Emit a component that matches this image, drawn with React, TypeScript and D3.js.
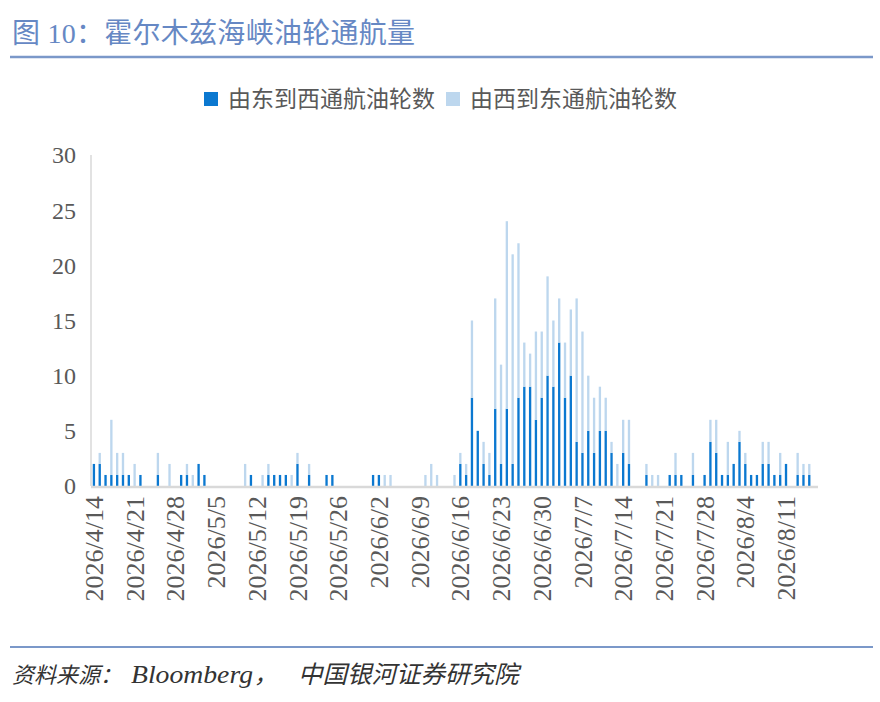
import * as d3 from 'd3';

// daily categories: 2026/4/14 .. 2026/8/16
const dates = d3.timeDay.range(new Date(2026, 3, 14), new Date(2026, 7, 17));
const fmt = d3.timeFormat('%Y/%-m/%-d');
const days = dates.map((d) => fmt(d));

const tickLabels = [
  '2026/4/14', '2026/4/21', '2026/4/28', '2026/5/5', '2026/5/12', '2026/5/19',
  '2026/5/26', '2026/6/2', '2026/6/9', '2026/6/16', '2026/6/23', '2026/6/30',
  '2026/7/7', '2026/7/14', '2026/7/21', '2026/7/28', '2026/8/4', '2026/8/11',
];

const yTicks = [0, 5, 10, 15, 20, 25, 30];

const seriesNames = ['由东到西通航油轮数', '由西到东通航油轮数'];
const colors = ['#0b78d0', '#bdd7ee'];

// 由东到西 (dark, bottom)
const eastToWest = [
  2, 2, 1, 1, 1, 1, 1, 0, 1, 0, 0, 1, 0, 0, 0, 1, 1, 0, 2, 1,
  0, 0, 0, 0, 0, 0, 0, 1, 0, 0, 1, 1, 1, 1, 0, 2, 0, 1, 0, 0,
  1, 1, 0, 0, 0, 0, 0, 0, 1, 1, 0, 0, 0, 0, 0, 0, 0, 0, 0, 0,
  0, 0, 0, 2, 1, 8, 5, 2, 1, 7, 2, 7, 2, 8, 9, 9, 6, 8, 10, 9,
  13, 8, 10, 4, 3, 5, 3, 5, 5, 3, 0, 3, 2, 0, 0, 1, 0, 0, 0, 1,
  1, 1, 0, 1, 0, 1, 4, 3, 1, 1, 2, 4, 2, 1, 1, 2, 2, 1, 1, 2,
  0, 1, 1, 1, 0,
];

// 由西到东 (light, stacked on top)
const westToEast = [
  0, 1, 0, 5, 2, 2, 0, 2, 0, 0, 0, 2, 0, 2, 0, 0, 1, 1, 0, 0,
  0, 0, 0, 0, 0, 0, 2, 0, 0, 1, 1, 0, 0, 0, 1, 1, 0, 1, 0, 0,
  0, 0, 0, 0, 0, 0, 0, 0, 0, 0, 1, 1, 0, 0, 0, 0, 0, 1, 2, 1,
  0, 0, 1, 1, 1, 7, 0, 2, 2, 10, 9, 17, 19, 14, 4, 3, 8, 6, 9, 6,
  4, 5, 6, 13, 11, 5, 5, 4, 3, 1, 2, 3, 4, 0, 0, 1, 1, 1, 0, 0,
  2, 0, 0, 2, 0, 0, 2, 3, 0, 3, 0, 1, 1, 0, 0, 2, 2, 0, 2, 0,
  0, 2, 1, 1, 0,
];

const W = 880;
const H = 702;
const plot = { left: 91, right: 818, top: 155, bottom: 486 };

const serif = '"Liberation Serif", "Noto Sans CJK SC", serif';
const sans = '"Noto Sans CJK SC", "Noto Sans", sans-serif';

export default function App() {
  const x = d3.scaleBand<string>().domain(days).range([plot.left, plot.right]).paddingInner(0.6).paddingOuter(0.3);
  const y = d3.scaleLinear().domain([0, 30]).range([plot.bottom, plot.top]);

  const rows = days.map((d, i) => ({ day: d, e: eastToWest[i] ?? 0, w: westToEast[i] ?? 0 }));
  const stacked = d3.stack<{ day: string; e: number; w: number }>().keys(['e', 'w'])(rows);

  return (
    <div style={{ position: 'absolute', left: 0, top: 0 }}>
      <svg width={W} height={H} style={{ display: 'block', background: '#fff' }}>
        {/* title */}
        <text x={12} y={43} fontFamily={serif} fontSize={28} fill="#6688c4" textLength={403} lengthAdjust="spacing">
          图 10：霍尔木兹海峡油轮通航量
        </text>
        <line x1={10} x2={873} y1={57} y2={57} stroke="#7b98c9" strokeWidth={2.5} />

        {/* legend */}
        {seriesNames.map((name, i) => {
          const lx = i === 0 ? 204 : 446;
          return (
            <g key={name}>
              <rect x={lx} y={92} width={14} height={14} fill={colors[i]} />
              <text x={lx + 24} y={107} fontFamily={sans} fontSize={23} fill="#595959">
                {name}
              </text>
            </g>
          );
        })}

        {/* y axis */}
        <line x1={plot.left} x2={plot.left} y1={plot.top} y2={plot.bottom} stroke="#d9d9d9" strokeWidth={1.5} />
        {yTicks.map((t) => (
          <text key={t} x={76} y={y(t)} dy="0.35em" textAnchor="end" fontFamily={serif} fontSize={24} fill="#595959">
            {t}
          </text>
        ))}

        {/* bars */}
        {stacked.map((s, si) => (
          <g key={s.key} fill={colors[si]}>
            {s.map((d) => (
              <rect
                key={d.data.day}
                x={x(d.data.day)}
                y={y(d[1])}
                width={x.bandwidth()}
                height={y(d[0]) - y(d[1])}
              />
            ))}
          </g>
        ))}

        {/* x axis */}
        <line x1={plot.left} x2={plot.right} y1={plot.bottom + 1} y2={plot.bottom + 1} stroke="#d9d9d9" strokeWidth={2.5} />
        {tickLabels.map((t) => {
          const cx = (x(t) ?? 0) + x.bandwidth() / 2;
          return (
            <text
              key={t}
              transform={`translate(${cx},${plot.bottom + 10}) rotate(-90)`}
              dy="0.35em"
              textAnchor="end"
              fontFamily={serif}
              fontSize={26}
              fill="#595959"
            >
              {t}
            </text>
          );
        })}

        {/* source */}
        <line x1={10} x2={873} y1={647} y2={647} stroke="#7b98c9" strokeWidth={2} />
        <g fontFamily={serif} fontStyle="italic" fill="#333">
          <text x={12} y={683} fontSize={22}>资料来源：</text>
          <text x={131} y={683} fontSize={25} textLength={122} lengthAdjust="spacingAndGlyphs">Bloomberg</text>
          <text x={254} y={683} fontSize={23}>，</text>
          <text x={298} y={683} fontSize={24.5}>中国银河证券研究院</text>
        </g>
      </svg>
    </div>
  );
}
